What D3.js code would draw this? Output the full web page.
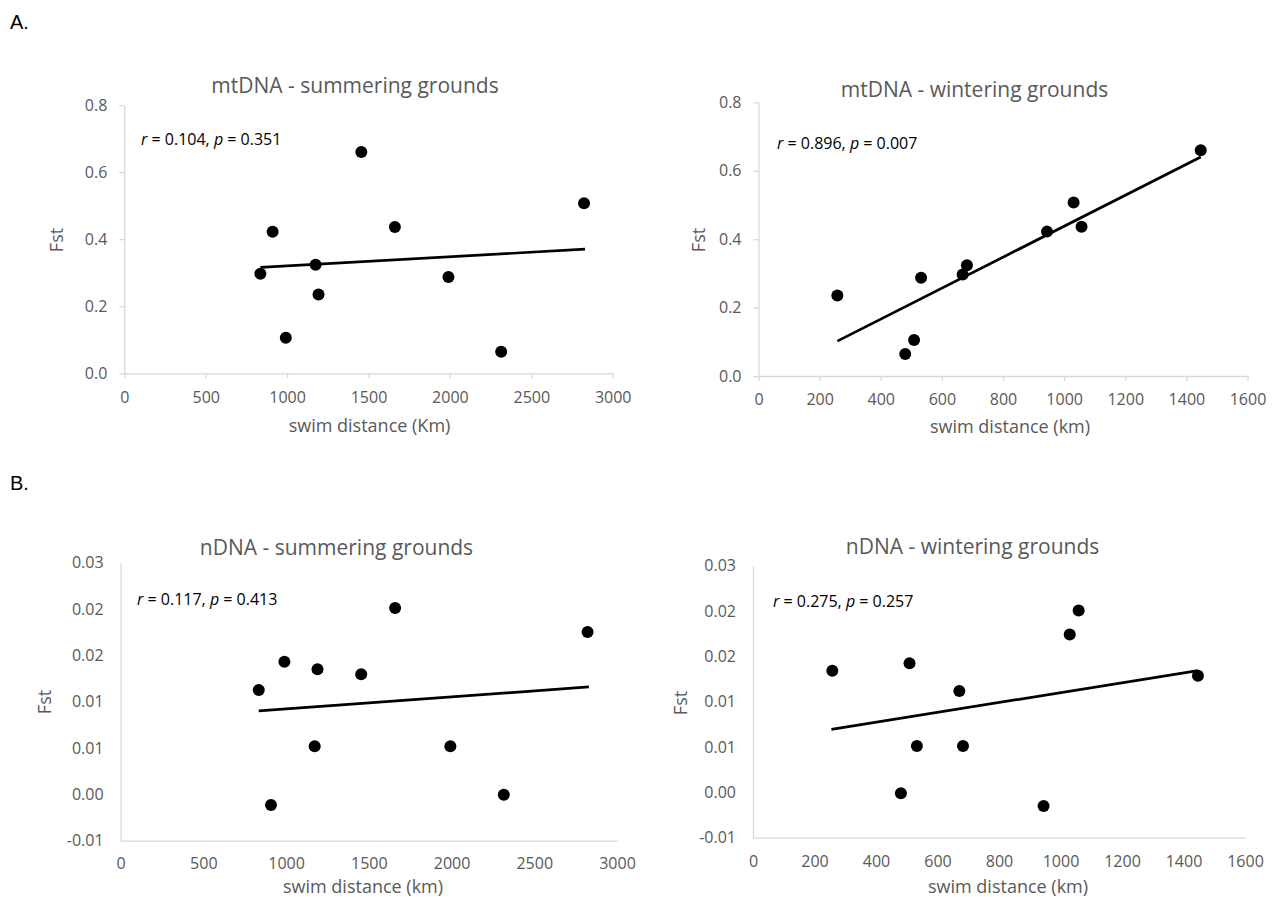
<!DOCTYPE html>
<html>
<head>
<meta charset="utf-8">
<script src="https://cdn.jsdelivr.net/npm/d3@7"></script>
<style>
  html, body { margin: 0; padding: 0; background: #fff; }
  svg { display: block; }
</style>
</head>
<body>
<svg id="chart" width="1283" height="897"></svg>
<script>
// ---------- DATA ----------
// Panel A1: mtDNA - summering grounds
const mtSummerX = [836, 911, 992, 1175, 1193, 1456, 1662, 1991, 2315, 2824];
const mtSummerY = [0.297, 0.422, 0.106, 0.324, 0.235, 0.660, 0.436, 0.287, 0.064, 0.507];
const mtSummerTrendX = [836, 2830];
const mtSummerTrendY = [0.316, 0.370];

// Panel A2: mtDNA - wintering grounds
const mtWinterX = [258, 480, 509, 532, 668, 682, 944, 1031, 1057, 1447];
const mtWinterY = [0.235, 0.064, 0.105, 0.287, 0.297, 0.324, 0.422, 0.507, 0.436, 0.660];
const mtWinterTrendX = [258, 1447];
const mtWinterTrendY = [0.102, 0.640];

// Panel B1: nDNA - summering grounds
const nSummerX = [835, 909, 990, 1173, 1190, 1454, 1659, 1993, 2316, 2822];
const nSummerY = [0.01126, -0.00115, 0.01432, 0.00518, 0.01349, 0.01295, 0.02011, 0.0052, -0.00004, 0.01752];
const nSummerTrendX = [835, 2830];
const nSummerTrendY = [0.0090, 0.0116];

// Panel B2: nDNA - wintering grounds
const nWinterX = [258, 481, 509, 533, 671, 683, 945, 1030, 1059, 1447];
const nWinterY = [0.01342, -0.00011, 0.01423, 0.00511, 0.01118, 0.00511, -0.00151, 0.0174, 0.02007, 0.01287];
const nWinterTrendX = [255, 1447];
const nWinterTrendY = [0.00695, 0.01342];

// Ticks
const mtYTicks = [0, 0.2, 0.4, 0.6, 0.8];
const mtYTickLabels = ["0.0", "0.2", "0.4", "0.6", "0.8"];
const nYTicks = [-0.005, 0, 0.005, 0.01, 0.015, 0.02, 0.025];
const nYTickLabels = ["-0.01", "0.00", "0.01", "0.01", "0.02", "0.02", "0.03"];
const summerXTicks = [0, 500, 1000, 1500, 2000, 2500, 3000];
const winterXTicks = [0, 200, 400, 600, 800, 1000, 1200, 1400, 1600];

// Texts
const titles = ["mtDNA - summering grounds", "mtDNA - wintering grounds", "nDNA - summering grounds", "nDNA - wintering grounds"];
const statR = ["0.104", "0.896", "0.117", "0.275"];
const statP = ["0.351", "0.007", "0.413", "0.257"];
const xTitles = ["swim distance (Km)", "swim distance (km)", "swim distance (km)", "swim distance (km)"];
const sectionLabels = ["A.", "B."];

// ---------- LAYOUT ----------
const panels = [
  { xs: mtSummerX, ys: mtSummerY, tx: mtSummerTrendX, ty: mtSummerTrendY,
    xTicks: summerXTicks, yTicks: mtYTicks, yLabels: mtYTickLabels, ticks: true,
    left: 124.3, right: 612.7, top: 105, bottom: 373.3, xLabelOff: 29.5,
    title: [355, 93], annot: [141, 145], yTitle: [57, 240], xTitle: [369.5, 432] },
  { xs: mtWinterX, ys: mtWinterY, tx: mtWinterTrendX, ty: mtWinterTrendY,
    xTicks: winterXTicks, yTicks: mtYTicks, yLabels: mtYTickLabels, ticks: true,
    left: 758.5, right: 1247.5, top: 102.3, bottom: 376, xLabelOff: 29,
    title: [974.5, 97], annot: [777, 149], yTitle: [699, 240], xTitle: [1010, 433] },
  { xs: nSummerX, ys: nSummerY, tx: nSummerTrendX, ty: nSummerTrendY,
    xTicks: summerXTicks, yTicks: nYTicks, yLabels: nYTickLabels, ticks: false,
    left: 120.6, right: 617, top: 562.7, bottom: 840.7, xLabelOff: 28,
    title: [336.5, 555], annot: [137, 605], yTitle: [45, 702], xTitle: [363, 893] },
  { xs: nWinterX, ys: nWinterY, tx: nWinterTrendX, ty: nWinterTrendY,
    xTicks: winterXTicks, yTicks: nYTicks, yLabels: nYTickLabels, ticks: false,
    left: 753, right: 1245, top: 565.7, bottom: 837.7, xLabelOff: 29,
    title: [972.6, 554], annot: [773, 607], yTitle: [681, 703], xTitle: [1008, 893] }
];

const FONT = "'Open Sans', 'Noto Sans', sans-serif";
const GRAY = "#595959";
const AXIS = "#d9d9d9";

const svg = d3.select("#chart");

// section labels
svg.append("text").attr("x", 10).attr("y", 29).text(sectionLabels[0])
  .attr("font-family", "'Liberation Sans', Arial, sans-serif").attr("font-size", 20).attr("fill", "#000");
svg.append("text").attr("x", 10).attr("y", 490).text(sectionLabels[1])
  .attr("font-family", "'Liberation Sans', Arial, sans-serif").attr("font-size", 20).attr("fill", "#000");

panels.forEach((p, i) => {
  const x = d3.scaleLinear()
    .domain([p.xTicks[0], p.xTicks[p.xTicks.length - 1]])
    .range([p.left, p.right]);
  const y = d3.scaleLinear()
    .domain([p.yTicks[0], p.yTicks[p.yTicks.length - 1]])
    .range([p.bottom, p.top]);

  const g = svg.append("g");
  const tickLen = p.ticks ? 5 : 0;

  // x axis (label baseline = axis + xLabelOff; d3 adds 0.71em)
  const xAxis = d3.axisBottom(x).tickValues(p.xTicks).tickFormat(d3.format("d"))
    .tickSize(tickLen).tickSizeOuter(0).tickPadding(p.xLabelOff - 11.4 - tickLen);
  const gx = g.append("g").attr("transform", `translate(0,${p.bottom})`).call(xAxis);

  // y axis
  const yAxis = d3.axisLeft(y).tickValues(p.yTicks)
    .tickFormat((d, k) => p.yLabels[k])
    .tickSize(tickLen).tickSizeOuter(0).tickPadding(17 - tickLen);
  const gy = g.append("g").attr("transform", `translate(${p.left},0)`).call(yAxis);

  [gx, gy].forEach(a => {
    a.select(".domain").attr("stroke", AXIS).attr("stroke-width", 1.3);
    a.selectAll(".tick line").attr("stroke", AXIS).attr("stroke-width", 1.3);
    a.selectAll(".tick text").attr("fill", GRAY).attr("font-family", FONT).attr("font-size", 16);
  });

  // title
  g.append("text").attr("x", p.title[0]).attr("y", p.title[1])
    .attr("text-anchor", "middle").attr("font-family", FONT).attr("font-size", 21)
    .attr("fill", GRAY).text(titles[i]);

  // axis titles
  g.append("text").attr("x", p.xTitle[0]).attr("y", p.xTitle[1])
    .attr("text-anchor", "middle").attr("font-family", FONT).attr("font-size", 18)
    .attr("fill", GRAY).text(xTitles[i]);
  g.append("text")
    .attr("transform", `translate(${p.yTitle[0] + 6},${p.yTitle[1]}) rotate(-90)`)
    .attr("text-anchor", "middle").attr("font-family", FONT).attr("font-size", 18)
    .attr("fill", GRAY).text("Fst");

  // annotation
  const t = g.append("text").attr("x", p.annot[0]).attr("y", p.annot[1])
    .attr("font-family", FONT).attr("font-size", 16).attr("fill", "#000");
  t.append("tspan").attr("font-style", "italic").text("r");
  t.append("tspan").text(` = ${statR[i]}, `);
  t.append("tspan").attr("font-style", "italic").text("p");
  t.append("tspan").text(` = ${statP[i]}`);

  // trend line
  const trend = p.tx.map((v, k) => [v, p.ty[k]]);
  g.append("path").datum(trend)
    .attr("d", d3.line().x(d => x(d[0])).y(d => y(d[1])))
    .attr("stroke", "#000").attr("stroke-width", 2.7).attr("fill", "none");

  // points
  const pts = p.xs.map((v, k) => [v, p.ys[k]]);
  g.selectAll("circle.pt").data(pts).enter().append("circle")
    .attr("class", "pt")
    .attr("cx", d => x(d[0])).attr("cy", d => y(d[1])).attr("r", 6)
    .attr("fill", "#000");
});
</script>
</body>
</html>
